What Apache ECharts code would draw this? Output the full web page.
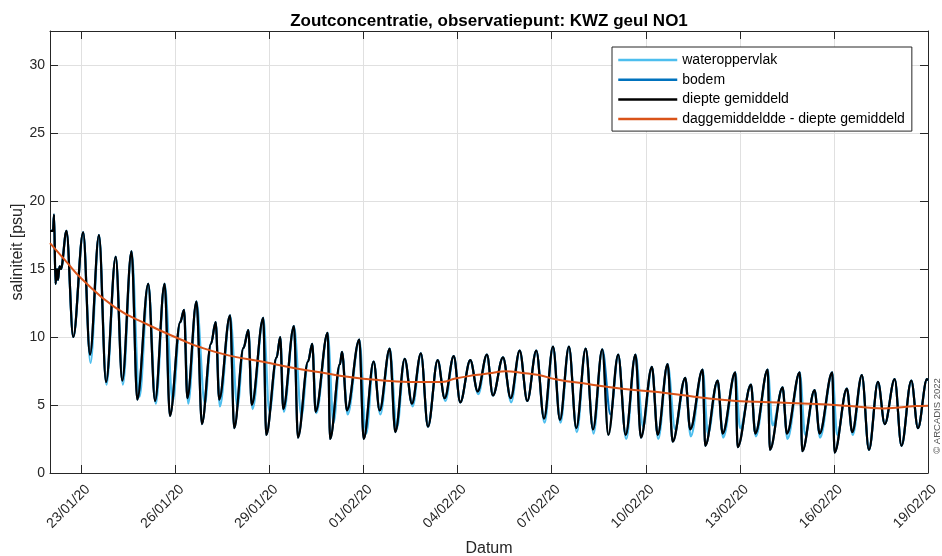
<!DOCTYPE html>
<html>
<head>
<meta charset="utf-8">
<script src="https://cdn.jsdelivr.net/npm/echarts@6/dist/echarts.min.js"></script>
<style>
  html, body { margin: 0; padding: 0; background: #ffffff; }
  #chart { width: 942px; height: 556px; }
</style>
</head>
<body>
<div id="chart"></div>
<script>
// Date-axis tick labels (dd/mm/yy)
const dateTicks = ['23/01/20', '26/01/20', '29/01/20', '01/02/20', '04/02/20',
                   '07/02/20', '10/02/20', '13/02/20', '16/02/20', '19/02/20'];

// Depth-averaged salinity [psu]; time in hours after 22/01/2020 00:00
const depthHours = [
  0, 2.3, 3.1, 4.2, 5.4, 6.1, 7.3, 8.4, 12.6, 17.8,
  25.4, 30.6, 37.5, 42.9, 50.3, 55.3, 62.4, 66.8, 75.2, 80.4,
  87.7, 91.8, 99.7, 102.6, 105.1, 112.1, 116.3, 123.2, 126.8, 129.5,
  137.8, 141.0, 148.1, 151.8, 154.4, 163.2, 165.5, 173.5, 176.2, 178.5,
  186.7, 189.8, 197.5, 200.7, 203.3, 212.5, 214.4, 221.9, 223.5, 227.3,
  236.7, 240.1, 247.7, 252.3, 260.0, 264.3, 271.5, 277.0, 283.9, 289.3,
  296.7, 302.1, 309.0, 314.0, 321.7, 327.3, 334.4, 339.0, 346.7, 352.6,
  359.5, 365.3, 372.2, 378.1, 385.0, 390.3, 397.2, 402.8, 410.0, 415.6,
  422.7, 427.3, 434.9, 440.6, 448.1, 452.3, 460.7, 465.1, 472.7, 476.6,
  486.2, 490.0, 499.5, 501.5, 511.0, 514.8, 524.5, 526.3, 536.5, 539.8,
  549.3, 551.0, 560.7, 564.0, 573.8, 575.8, 585.2, 589.0, 598.7, 600.5,
  609.9, 614.0, 621.4, 626.8, 633.7, 638.9, 646.5, 651.7, 659.2, 664.3,
  671.2, 672.0
];
const depthValues = [
  17.8, 17.8, 19.0, 13.9, 15.0, 14.2, 15.2, 15.0, 17.8, 10.0,
  17.7, 8.7, 17.5, 6.7, 15.9, 6.8, 16.3, 5.4, 13.9, 5.3,
  13.9, 4.2, 11.1, 12.0, 5.5, 12.6, 3.6, 9.5, 11.1, 5.4,
  11.6, 3.3, 9.2, 10.5, 5.0, 11.4, 2.8, 8.5, 10.0, 4.7,
  10.8, 2.6, 8.2, 9.5, 4.5, 10.3, 2.5, 8.0, 8.9, 4.6,
  9.8, 2.5, 8.2, 4.6, 9.15, 3.0, 8.4, 5.1, 8.8, 3.4,
  8.3, 5.5, 8.6, 5.2, 8.3, 6.0, 8.7, 5.7, 8.5, 5.5,
  9.0, 5.3, 9.0, 4.0, 9.3, 3.9, 9.3, 3.3, 9.15, 3.2,
  9.1, 2.8, 8.7, 2.8, 8.7, 2.6, 7.8, 2.8, 8.0, 2.3,
  7.0, 3.2, 7.6, 2.0, 6.8, 2.9, 7.4, 1.9, 6.5, 2.9,
  7.6, 1.7, 6.3, 2.9, 7.4, 1.6, 6.1, 2.9, 7.4, 1.5,
  6.2, 3.0, 7.2, 1.7, 6.7, 3.6, 6.9, 2.0, 6.8, 3.3,
  6.9, 6.8
];

// Surface salinity at low water where it leaves the depth-averaged curve: [hour, psu]
const surfaceDips = [
  [31.0, 8.1], [43.2, 6.5], [55.8, 6.5], [68.5, 5.6], [81.0, 5.1],
  [94.0, 5.3], [105.8, 5.1], [118.5, 5.1], [130.0, 4.9], [143.5, 4.9],
  [155.0, 4.7], [168.0, 4.5], [179.0, 4.5], [192.5, 4.2], [203.8, 4.4],
  [217.0, 3.7], [227.8, 4.3], [242.0, 2.9], [252.8, 4.3], [265.5, 3.3],
  [277.5, 4.9], [302.6, 5.3], [327.8, 5.8], [353.0, 5.2], [378.5, 3.7],
  [390.7, 3.7], [403.2, 3.0], [416.0, 2.9], [441.0, 2.5], [454.0, 3.4],
  [465.5, 2.5], [478.5, 3.2], [490.4, 2.7], [503.6, 2.9], [515.2, 2.6],
  [528.2, 3.3], [540.2, 2.7], [553.0, 3.5], [564.4, 2.5], [578.0, 2.8],
  [589.4, 2.6], [602.5, 2.8], [614.4, 2.8]
];
// Bottom salinity where it leaves the depth-averaged curve: [hour, psu]
const bottomDips = [[429.0, 4.3]];

// Daily mean of the depth-averaged salinity
const meanHours = [0, 12.8, 24.0, 49.5, 75.0, 100.5, 113.3, 136.5, 162.0, 187.5,
                   213.0, 225.8, 249.0, 274.5, 300.0, 310.2, 325.5, 338.3, 348.8, 361.5,
                   374.2, 387.0, 412.5, 438.0, 474.0, 499.5, 525.0, 550.5, 586.5, 612.0,
                   637.5, 663.0, 672.0];
const meanValues = [16.9, 15.5, 14.3, 12.2, 10.9, 9.8, 9.3, 8.65, 8.2, 7.7,
                    7.3, 7.1, 6.85, 6.7, 6.7, 6.95, 7.2, 7.36, 7.48, 7.36,
                    7.2, 6.9, 6.53, 6.2, 5.85, 5.53, 5.3, 5.2, 5.07, 4.92,
                    4.75, 4.92, 4.95];

// Hours after 22/01/2020 00:00 for each date tick
const startDate = new Date(2020, 0, 22);
const tickHours = dateTicks.map(s => {
  const [d, m, y] = s.split('/').map(Number);
  return Math.round((new Date(2000 + y, m - 1, d) - startDate) / 3600000);
});
const tickLabel = v => {
  const i = tickHours.indexOf(Math.round(v));
  return i >= 0 ? dateTicks[i] : '';
};

// Depth-averaged curve with selected low-water points replaced
function withDips(dips) {
  const pts = depthHours.map((h, i) => [h, depthValues[i]]);
  dips.forEach(([h, v]) => {
    let best = -1, bestDist = Infinity;
    for (let i = 1; i < pts.length - 1; i++) {
      const isLow = depthValues[i] < depthValues[i - 1] && depthValues[i] < depthValues[i + 1];
      const dist = Math.abs(depthHours[i] - h);
      if (isLow && dist < bestDist) { best = i; bestDist = dist; }
    }
    if (best >= 0) pts[best] = [h, v];
  });
  return pts;
}

const depthData = depthHours.map((h, i) => [h, depthValues[i]]);
const surfaceData = withDips(surfaceDips);
const bottomData = withDips(bottomDips);
const meanData = meanHours.map((h, i) => [h, meanValues[i]]);

const axisColor = '#262626';
const gridColor = '#e0e0e0';
const font = '"Liberation Sans", Arial, Helvetica, sans-serif';
const xMax = tickHours[tickHours.length - 1];

const chart = echarts.init(document.getElementById('chart'), null, { renderer: 'canvas' });
chart.setOption({
  animation: false,
  backgroundColor: '#ffffff',
  textStyle: { fontFamily: font },
  title: {
    text: 'Zoutconcentratie, observatiepunt: KWZ geul NO1',
    left: 489, top: 13, textAlign: 'center', padding: 0,
    textStyle: { fontFamily: font, fontSize: 17, fontWeight: 'bold', color: '#000000' }
  },
  grid: { left: 50, right: 14, top: 31, bottom: 83, containLabel: false, outerBoundsMode: 'none' },
  legend: {
    left: 612, top: 47, orient: 'vertical',
    itemWidth: 59, itemHeight: 14, itemGap: 5.7,
    padding: [6, 7, 5, 5],
    backgroundColor: '#ffffff', borderColor: axisColor, borderWidth: 1,
    itemStyle: { color: 'rgba(0,0,0,0)', borderWidth: 0, opacity: 0 },
    lineStyle: { width: 2.5 },
    textStyle: { fontFamily: font, fontSize: 14, color: '#000000' },
    data: ['wateroppervlak', 'bodem', 'diepte gemiddeld', 'daggemiddeldde - diepte gemiddeld']
  },
  xAxis: [{
    type: 'value', min: 0, max: xMax, position: 'bottom',
    name: 'Datum', nameLocation: 'middle', nameGap: 68, nameMoveOverlap: false,
    nameTextStyle: { fontFamily: font, fontSize: 16, color: axisColor },
    axisLine: { show: true, onZero: false, lineStyle: { color: axisColor, width: 1 } },
    axisTick: { show: true, inside: true, length: 8, customValues: tickHours, lineStyle: { color: axisColor } },
    axisLabel: { customValues: tickHours, rotate: 45, margin: 8, formatter: tickLabel,
                 verticalAlign: 'top', padding: [2, 0, 0, 0],
                 fontFamily: font, fontSize: 14, color: axisColor, hideOverlap: false },
    splitLine: { show: true, lineStyle: { color: gridColor, width: 1 } }
  }, {
    type: 'value', min: 0, max: xMax, position: 'top',
    axisLine: { show: true, onZero: false, lineStyle: { color: axisColor, width: 1 } },
    axisTick: { show: true, inside: true, length: 8, customValues: tickHours, lineStyle: { color: axisColor } },
    axisLabel: { show: false },
    splitLine: { show: false }
  }],
  yAxis: [{
    type: 'value', min: 0, max: 32.5, interval: 5, position: 'left',
    name: 'saliniteit [psu]', nameLocation: 'middle', nameGap: 24, nameMoveOverlap: false,
    nameTextStyle: { fontFamily: font, fontSize: 16, color: axisColor },
    axisLine: { show: true, onZero: false, lineStyle: { color: axisColor, width: 1 } },
    axisTick: { show: true, inside: true, length: 8, lineStyle: { color: axisColor } },
    axisLabel: { margin: 5, showMaxLabel: false, fontFamily: font, fontSize: 14, color: axisColor },
    splitLine: { show: true, showMaxLine: false, showMinLine: false, lineStyle: { color: gridColor, width: 1 } }
  }, {
    type: 'value', min: 0, max: 32.5, interval: 5, position: 'right',
    axisLine: { show: true, onZero: false, lineStyle: { color: axisColor, width: 1 } },
    axisTick: { show: true, inside: true, length: 8, lineStyle: { color: axisColor } },
    axisLabel: { show: false },
    splitLine: { show: false }
  }],
  series: [{
    name: 'wateroppervlak', type: 'line', data: surfaceData,
    symbol: 'none', smooth: 0.35, smoothMonotone: 'x',
    lineStyle: { color: '#4DBEEE', width: 2.2 }, itemStyle: { color: '#4DBEEE' }
  }, {
    name: 'bodem', type: 'line', data: bottomData,
    symbol: 'none', smooth: 0.35, smoothMonotone: 'x',
    lineStyle: { color: '#0072BD', width: 2.2 }, itemStyle: { color: '#0072BD' }
  }, {
    name: 'diepte gemiddeld', type: 'line', data: depthData,
    symbol: 'none', smooth: 0.35, smoothMonotone: 'x',
    lineStyle: { color: '#000000', width: 2.2 }, itemStyle: { color: '#000000' }
  }, {
    name: 'daggemiddeldde - diepte gemiddeld', type: 'line', data: meanData,
    symbol: 'none', smooth: true,
    lineStyle: { color: '#D95319', width: 2 }, itemStyle: { color: '#D95319' }
  }],
  graphic: [{
    type: 'text', x: 937, y: 416, rotation: Math.PI / 2,
    style: { text: '© ARCADIS 2022', fontFamily: font, fontSize: 9.5, fill: '#555555',
             align: 'center', verticalAlign: 'middle' }
  }]
});
</script>
</body>
</html>
